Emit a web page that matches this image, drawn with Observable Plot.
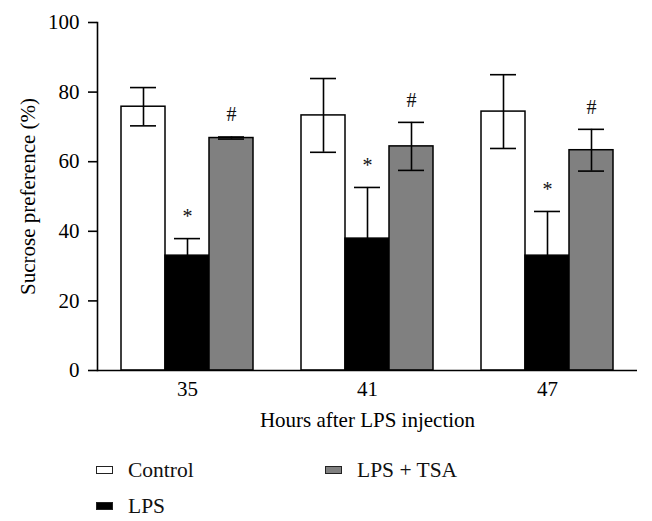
<!DOCTYPE html>
<html>
<head>
<meta charset="utf-8">
<script src="https://cdn.jsdelivr.net/npm/d3@7"></script>
<script src="https://cdn.jsdelivr.net/npm/@observablehq/plot@0.6"></script>
<style>
  html, body { margin: 0; padding: 0; background: #fff; }
  #wrap { position: relative; width: 652px; height: 521px; overflow: hidden; font-family: "Liberation Serif", "Times New Roman", serif; }
  #legend { position: absolute; left: 0; top: 0; width: 652px; height: 521px; pointer-events: none; }
  .item { position: absolute; display: flex; align-items: center; font-size: 21.5px; color: #111; white-space: nowrap; }
  .sw { width: 15px; height: 6px; border: 1.3px solid #222; margin-right: 15px; }
</style>
</head>
<body>
<div id="wrap"><div id="chart"></div><div id="legend"></div></div>
<script>
// ---- data ----
const hours = ["35", "41", "47"];
const groups = ["Control", "LPS", "LPS + TSA"];
const controlMean = [75.8, 73.3, 74.4];
const controlErr = [5.5, 10.6, 10.6];
const lpsMean = [33.0, 37.9, 33.0];
const lpsErr = [4.9, 14.7, 12.7];
const tsaMean = [66.8, 64.4, 63.3];
const tsaErr = [0.3, 6.9, 6.0];
const groupSign = ["", "*", "#"];
const groupColors = ["#ffffff", "#000000", "#808080"];
const yTicks = [0, 20, 40, 60, 80, 100];

const means = [controlMean, lpsMean, tsaMean];
const errs = [controlErr, lpsErr, tsaErr];
const rows = [];
hours.forEach((h, i) => groups.forEach((g, j) => rows.push({
  hour: h, group: g, mean: means[j][i], err: errs[j][i],
  lo: means[j][i] - errs[j][i], hi: means[j][i] + errs[j][i], sign: groupSign[j]
})));
const signed = rows.filter(d => d.sign);
const lowerVisible = rows.filter(d => d.group !== "LPS");

const font = "'Liberation Serif', 'Times New Roman', serif";
const chart = Plot.plot({
  width: 652,
  height: 440,
  marginLeft: 97,
  marginRight: 15,
  marginTop: 22,
  marginBottom: 70,
  style: { fontFamily: font, fontSize: "21px", color: "#000", background: "#fff" },
  fx: { domain: hours, padding: 0 },
  x: { domain: groups, paddingInner: 0, paddingOuter: 0.52, axis: null },
  y: { domain: [0, 100] },
  color: { domain: groups, range: groupColors },
  marks: [
    Plot.barY(rows, { fx: "hour", x: "group", y: "mean", fill: "group", stroke: "#000", strokeWidth: 1.5 }),
    Plot.ruleX(rows, { fx: "hour", x: "group", y1: "mean", y2: "hi", stroke: "#000", strokeWidth: 1.6 }),
    Plot.ruleX(lowerVisible, { fx: "hour", x: "group", y1: "lo", y2: "mean", stroke: "#000", strokeWidth: 1.6 }),
    Plot.tickY(rows, { fx: "hour", x: "group", y: "hi", stroke: "#000", strokeWidth: 1.6, insetLeft: 9, insetRight: 9 }),
    Plot.tickY(lowerVisible, { fx: "hour", x: "group", y: "lo", stroke: "#000", strokeWidth: 1.6, insetLeft: 9, insetRight: 9 }),
    Plot.text(signed, { fx: "hour", x: "group", y: "hi", text: "sign", dy: -22, fontSize: 20, fill: "#111", fontFamily: font }),
    Plot.ruleY([0], { stroke: "#000", strokeWidth: 1.6 }),
    Plot.frame({ anchor: "left", facetAnchor: "left", stroke: "#000", strokeWidth: 1.6 }),
    Plot.axisY({ ticks: yTicks, tickSize: 9, tickPadding: 9, strokeWidth: 1.6, stroke: "#000",
      fontSize: 21, fontFamily: font, fill: "#000",
      label: "Sucrose preference (%)", labelAnchor: "center", labelOffset: 77, labelArrow: "none" }),
    Plot.axisFx({ anchor: "bottom", tickSize: 0, tickPadding: 11, fontSize: 21, fontFamily: font, fill: "#000",
      label: "Hours after LPS injection", labelAnchor: "center", labelOffset: 56, labelArrow: "none" })
  ]
});
document.getElementById("chart").appendChild(chart);

// legend (HTML, below the svg)
const legend = document.getElementById("legend");
const legendPos = [[96, 470], [96, 506], [325, 470]];
groups.forEach((g, j) => {
  const it = document.createElement("div");
  it.className = "item";
  it.style.left = legendPos[j][0] + "px";
  it.style.top = (legendPos[j][1] - 12) + "px";
  it.style.height = "24px";
  const sw = document.createElement("div");
  sw.className = "sw";
  sw.style.background = groupColors[j];
  it.appendChild(sw);
  const t = document.createElement("span");
  t.textContent = g;
  it.appendChild(t);
  legend.appendChild(it);
});
</script>
</body>
</html>
